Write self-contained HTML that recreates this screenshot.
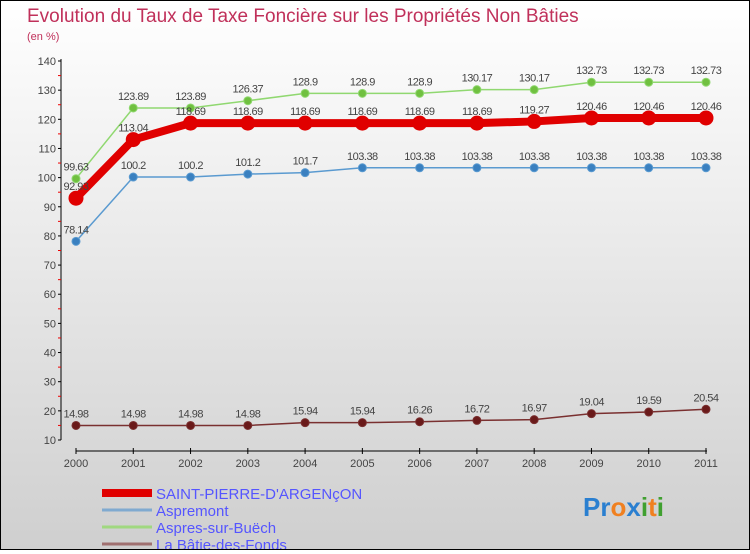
<!DOCTYPE html>
<html><head><meta charset="utf-8"><style>
html,body{margin:0;padding:0}
body{width:750px;height:550px;overflow:hidden;font-family:"Liberation Sans",sans-serif}
#wrap{position:relative;width:748px;height:548px;border:1px solid #000;background:linear-gradient(#ffffff,#cfcfcf)}
svg text{font-family:"Liberation Sans",sans-serif}
</style></head><body>
<div id="wrap">
<svg id="chart" width="748" height="548">
<text x="26" y="21" font-size="19" fill="#c0305a">Evolution du Taux de Taxe Foncière sur les Propriétés Non Bâties</text>
<text x="26" y="39" font-size="11" fill="#c0305a">(en %)</text>
<g id="axes"></g>
<g id="series"></g>
<g id="legend"></g>
<text x="582" y="515" font-size="26" font-weight="bold"><tspan fill="#2a7fd0">Pr</tspan><tspan fill="#f08020">o</tspan><tspan fill="#2a7fd0">x</tspan><tspan fill="#40a030">i</tspan><tspan fill="#f08020">t</tspan><tspan fill="#40a030">i</tspan></text>
</svg>
</div>
<script>
const years=[2000,2001,2002,2003,2004,2005,2006,2007,2008,2009,2010,2011];
const yTicks=[10,20,30,40,50,60,70,80,90,100,110,120,130,140];
const seriesNames=["SAINT-PIERRE-D'ARGENçON","Aspremont","Aspres-sur-Buëch","La Bâtie-des-Fonds"];
const stPierre=[92.93,113.04,118.69,118.69,118.69,118.69,118.69,118.69,119.27,120.46,120.46,120.46];
const aspremont=[78.14,100.2,100.2,101.2,101.7,103.38,103.38,103.38,103.38,103.38,103.38,103.38];
const aspres=[99.63,123.89,123.89,126.37,128.9,128.9,128.9,130.17,130.17,132.73,132.73,132.73];
const batie=[14.98,14.98,14.98,14.98,15.94,15.94,16.26,16.72,16.97,19.04,19.59,20.54];

const NS="http://www.w3.org/2000/svg";
const X=i=>75+i*(705-75)/(years.length-1);
const Y=v=>439-(v-10)*(439-60)/130;
function mk(t,a,p){const e=document.createElementNS(NS,t);for(const k in a)e.setAttribute(k,a[k]);(p||document.getElementById('chart')).appendChild(e);return e;}
const axes=document.getElementById('axes');
let yl=mk('line',{x1:60,y1:58,x2:60,y2:439,stroke:'#000'},axes);


yTicks.forEach(v=>{
 mk('line',{x1:57,y1:Y(v),x2:60,y2:Y(v),stroke:'#000'},axes);
 if(v<140)mk('line',{x1:57,y1:Y(v+5),x2:60,y2:Y(v+5),stroke:'#e00'},axes);
 const t=mk('text',{x:55,y:Y(v)+4,'font-size':11,fill:'#444','text-anchor':'end'},axes);
 t.textContent=v;
 
 
});
let xl=mk('line',{x1:75,y1:450,x2:706,y2:450,stroke:'#000'},axes);


years.forEach((y,i)=>{
 mk('line',{x1:X(i),y1:447,x2:X(i),y2:453,stroke:'#000'},axes);
 const t=mk('text',{x:X(i),y:466,'font-size':11,fill:'#444','text-anchor':'middle'},axes);
 t.textContent=y;
 
 
});
const sg=document.getElementById('series');
function draw(vals,color,w,r,name,fill){
 const g=mk('g',{},sg);
 
 
 mk('polyline',{points:vals.map((v,i)=>X(i)+','+Y(v)).join(' '),fill:'none',stroke:color,'stroke-width':w,'stroke-linejoin':'round'},g);
 vals.forEach((v,i)=>{
  const c=mk('circle',{cx:X(i),cy:Y(v),r:r,fill:fill,stroke:color},g);
  
  
  const t=mk('text',{x:X(i),y:Y(v)-8,'font-size':11,fill:'#444','text-anchor':'middle','letter-spacing':'-0.5'},g);
  t.textContent=v;
  
  
 });
}
draw(batie,'#7a3030',1.5,4,'series-la-batie','#6a1a1a');
draw(aspremont,'#5a9ad0',1.5,4,'series-aspremont','#3a80c0');
draw(aspres,'#90d870',1.5,4,'series-aspres','#70c040');
draw(stPierre,'#e00000',8,7,'series-saint-pierre','#e00000');
const lg=document.getElementById('legend');
const lc=['#e00000','#80aad0','#a0d880','#a07070'],lw=[8,3,3,3];
seriesNames.forEach((n,i)=>{
 const y=492+i*17;
 const l=mk('line',{x1:101,y1:y,x2:151,y2:y,stroke:lc[i],'stroke-width':lw[i]},lg);
 
 
 const t=mk('text',{x:155,y:y+6,'font-size':15,fill:'#5555ff'},lg);
 t.textContent=n;
 
 
});
</script>
</body></html>
